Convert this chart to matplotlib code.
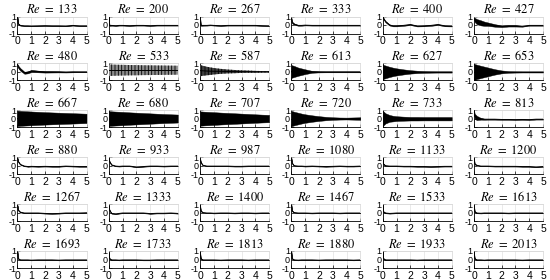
import matplotlib
matplotlib.use("Agg")
import matplotlib.pyplot as plt

plt.rcParams["mathtext.fontset"] = "stix"
plt.rcParams["font.family"] = ["Liberation Sans", "DejaVu Sans"]
plt.rcParams["hatch.linewidth"] = 0.6

# Reynolds number of each panel, row by row
re_numbers = [133, 200, 267, 333, 400, 427,
              480, 533, 587, 613, 627, 653,
              667, 680, 707, 720, 733, 813,
              880, 933, 987, 1080, 1133, 1200,
              1267, 1333, 1400, 1467, 1533, 1613,
              1693, 1733, 1813, 1880, 1933, 2013]

# time knots the traces were read at
t_knots = [0, 0.05, 0.2, 0.5, 0.75, 1, 1.5, 2, 2.5, 3, 3.5, 4, 4.5, 5]

# mean level of each trace
centre = [
    [0.9, 0.15, -0.05, -0.1, -0.1, -0.12, -0.1, -0.08, -0.1, -0.1, -0.12, -0.05, -0.1, -0.1],
    [1.0, -0.05, -0.05, -0.08, -0.05, -0.05, -0.08, -0.05, -0.05, -0.08, -0.05, -0.05, -0.05, -0.05],
    [1.0, -0.05, -0.05, -0.05, -0.02, -0.05, -0.08, -0.05, -0.05, -0.05, -0.05, -0.05, -0.08, -0.1],
    [0.8, 0.3, 0.1, -0.05, -0.05, -0.02, -0.05, -0.05, -0.05, -0.05, -0.05, -0.05, -0.05, -0.05],
    [1.0, 0.8, 0.4, 0.0, -0.1, -0.1, -0.05, 0.05, -0.12, -0.1, -0.05, 0.05, -0.1, -0.12],
    [0.8, 0.6, 0.4, 0.25, 0.15, 0.1, -0.05, -0.15, -0.1, -0.1, -0.15, -0.05, -0.05, -0.05],
    [0.85, 0.6, 0.3, -0.1, -0.05, 0.1, 0.05, 0.0, 0.0, 0.0, -0.02, 0.0, 0.0, 0.0],
    [0.2, 0.2, 0.2, 0.2, 0.2, 0.2, 0.2, 0.2, 0.2, 0.2, 0.2, 0.2, 0.2, 0.2],
    [0.15, 0.14, 0.13, 0.1, 0.085, 0.075, 0.065, 0.05, 0.035, 0.03, 0.025, 0.01, 0.01, 0.01],
    [0.05, 0.05, 0.05, 0.025, 0.025, 0.025, 0.01, 0, 0, 0, 0, 0, 0, 0],
    [0, 0, 0, 0, 0, 0, 0, 0, 0, 0, 0, 0, 0, 0],
    [0, 0, 0, 0, 0, 0, 0, 0, 0, 0, 0, 0, 0, 0],
    [0.05, 0.05, 0.05, 0.05, 0.05, 0.05, 0.05, 0.05, 0.05, 0.05, 0.05, 0.05, 0.05, 0.05],
    [0.03, 0.03, 0.03, 0.03, 0.03, 0.03, 0.03, 0.03, 0.03, 0.03, 0.03, 0.03, 0.03, 0.03],
    [0.03, 0.03, 0.03, 0.03, 0.03, 0.03, 0.03, 0.03, 0.03, 0.03, 0.03, 0.03, 0.03, 0.03],
    [0.03, 0.03, 0.03, 0.03, 0.03, 0.03, 0.03, 0.03, 0.03, 0.03, 0.03, 0.03, 0.03, 0.03],
    [0.05, 0.05, 0.05, 0.05, 0.025, 0.025, 0.015, 0.01, 0.01, 0.01, 0.01, 0.01, 0.01, 0.01],
    [1.0, 0.3, 0.1, 0.0, -0.05, -0.05, -0.05, -0.08, -0.08, -0.1, -0.08, -0.1, -0.05, -0.05],
    [0.9, 0.5, 0.15, -0.05, -0.1, -0.08, -0.1, -0.08, -0.1, -0.1, -0.05, -0.08, -0.1, -0.1],
    [0.9, 0.5, 0.1, -0.05, -0.08, -0.05, -0.05, -0.15, -0.1, -0.05, -0.05, -0.08, -0.05, -0.05],
    [0.9, 0.4, 0.05, -0.05, -0.05, -0.05, -0.05, -0.05, -0.08, -0.08, -0.05, -0.05, -0.05, -0.05],
    [0.9, 0.3, 0.0, -0.05, -0.05, -0.08, -0.05, -0.08, -0.1, -0.08, -0.05, -0.08, -0.08, -0.05],
    [0.9, 0.2, 0.0, -0.05, -0.05, -0.05, -0.08, -0.08, -0.1, -0.1, -0.12, -0.1, -0.08, -0.08],
    [0.9, 0.2, 0.05, -0.05, -0.05, -0.05, -0.08, -0.08, -0.08, -0.08, -0.1, -0.1, -0.15, -0.1],
    [0.85, 0.3, 0.05, -0.05, -0.05, -0.05, -0.05, -0.1, -0.12, -0.1, -0.05, -0.05, -0.05, -0.02],
    [0.8, 0.3, -0.1, -0.15, -0.1, -0.05, -0.05, -0.05, -0.05, -0.12, -0.08, -0.08, -0.05, -0.1],
    [0.9, 0.2, 0.0, -0.05, -0.05, -0.08, -0.05, -0.05, -0.08, -0.05, -0.05, -0.08, -0.05, -0.05],
    [0.9, 0.2, 0.0, -0.05, -0.05, -0.05, -0.08, -0.05, -0.05, -0.05, -0.08, -0.05, -0.05, -0.05],
    [0.9, 0.1, -0.05, -0.1, -0.08, -0.05, -0.05, -0.05, -0.05, -0.05, -0.05, -0.05, -0.05, -0.05],
    [0.9, 0.1, -0.05, -0.08, -0.05, -0.05, -0.05, -0.05, -0.08, -0.05, -0.05, -0.05, -0.05, -0.05],
    [0.9, 0.1, -0.05, -0.05, -0.05, -0.08, -0.05, -0.05, -0.05, -0.08, -0.05, -0.05, -0.05, -0.05],
    [0.8, 0.1, -0.05, -0.05, -0.08, -0.05, -0.05, -0.05, -0.08, -0.08, -0.05, -0.05, -0.05, -0.05],
    [0.9, 0.1, -0.05, -0.05, -0.05, -0.05, -0.08, -0.05, -0.05, -0.05, -0.08, -0.05, -0.05, -0.05],
    [0.9, 0.1, -0.05, -0.08, -0.05, -0.05, -0.05, -0.08, -0.05, -0.05, -0.05, -0.05, -0.08, -0.05],
    [0.9, 0.1, -0.05, -0.05, -0.05, -0.05, -0.05, -0.05, -0.08, -0.05, -0.05, -0.05, -0.05, -0.05],
    [0.9, 0.1, -0.05, -0.05, -0.08, -0.05, -0.05, -0.05, -0.05, -0.05, -0.08, -0.05, -0.05, -0.05],
]

# half width of the oscillation around the mean
quiet = [0.02, 0.05, 0.03, 0.02, 0.02, 0.02, 0.02, 0.02, 0.02, 0.02, 0.02, 0.02, 0.02, 0.02]
half_width = [
    quiet, quiet, quiet,
    [0.05, 0.1, 0.08, 0.04, 0.03, 0.03, 0.02, 0.02, 0.02, 0.02, 0.02, 0.02, 0.02, 0.02],
    [0.02, 0.05, 0.08, 0.06, 0.06, 0.06, 0.05, 0.05, 0.05, 0.05, 0.05, 0.05, 0.05, 0.05],
    [0.1, 0.25, 0.3, 0.3, 0.25, 0.2, 0.15, 0.1, 0.08, 0.08, 0.05, 0.03, 0.03, 0.03],
    [0.05, 0.15, 0.15, 0.12, 0.12, 0.12, 0.1, 0.08, 0.07, 0.06, 0.05, 0.05, 0.04, 0.04],
    [0.68, 0.68, 0.67, 0.65, 0.64, 0.63, 0.61, 0.6, 0.58, 0.57, 0.56, 0.55, 0.54, 0.53],
    [0.65, 0.64, 0.59, 0.5, 0.44, 0.38, 0.29, 0.23, 0.19, 0.15, 0.13, 0.11, 0.09, 0.09],
    [0.75, 0.73, 0.65, 0.48, 0.38, 0.28, 0.11, 0.06, 0.05, 0.05, 0.05, 0.05, 0.05, 0.05],
    [0.85, 0.83, 0.75, 0.6, 0.5, 0.42, 0.3, 0.2, 0.14, 0.11, 0.09, 0.08, 0.08, 0.08],
    [0.95, 0.93, 0.85, 0.72, 0.62, 0.52, 0.32, 0.17, 0.1, 0.08, 0.07, 0.07, 0.07, 0.07],
    [0.9, 0.9, 0.88, 0.85, 0.83, 0.81, 0.77, 0.73, 0.7, 0.67, 0.64, 0.61, 0.58, 0.55],
    [0.88, 0.87, 0.85, 0.82, 0.8, 0.78, 0.73, 0.69, 0.65, 0.61, 0.57, 0.53, 0.5, 0.47],
    [0.85, 0.84, 0.82, 0.79, 0.77, 0.75, 0.7, 0.66, 0.62, 0.58, 0.54, 0.5, 0.46, 0.43],
    [0.9, 0.88, 0.8, 0.68, 0.58, 0.5, 0.38, 0.28, 0.2, 0.15, 0.12, 0.11, 0.13, 0.15],
    [0.88, 0.83, 0.6, 0.4, 0.33, 0.28, 0.24, 0.21, 0.21, 0.2, 0.2, 0.2, 0.2, 0.2],
    [0.05, 0.3, 0.25, 0.1, 0.06, 0.05, 0.05, 0.04, 0.04, 0.04, 0.04, 0.04, 0.04, 0.04],
    quiet, quiet, quiet, quiet, quiet, quiet,
    quiet, quiet, quiet, quiet, quiet, quiet,
    quiet, quiet, quiet, quiet, quiet, quiet,
]

# panels whose dense oscillation shows up as a striped grey band
striped = {533: "0.55", 587: "0.25"}

W, H = 550, 280
fig = plt.figure(figsize=(W / 100, H / 100), dpi=100)

left0, col_step, ax_w = 17.5, 91.3, 69
top0, row_step, ax_h = 16.5, 46.9, 17

for i, re in enumerate(re_numbers):
    r, c = divmod(i, 6)
    x0 = left0 + c * col_step
    y0 = top0 + r * row_step
    ax = fig.add_axes([x0 / W, 1 - (y0 + ax_h) / H, ax_w / W, ax_h / H])

    mid = centre[i]
    hw = half_width[i]
    lo = [m - h for m, h in zip(mid, hw)]
    hi = [m + h for m, h in zip(mid, hw)]
    if re in striped:
        ax.fill_between(t_knots, lo, hi, facecolor=striped[re], edgecolor="black",
                        hatch="|||||", lw=0, zorder=3)
    else:
        ax.fill_between(t_knots, lo, hi, color="black", lw=0.3, zorder=3)
    ax.plot(t_knots, mid, color="black", lw=0.7, zorder=4)

    ax.set_xlim(0, 5)
    ax.set_ylim(-1, 1)
    ax.set_xticks([0, 1, 2, 3, 4, 5])
    ax.set_yticks([-1, 0, 1])
    ax.set_yticklabels(["-1", "0", "1"])
    ax.grid(True, color="#e2e2e2", lw=0.5, zorder=0)
    ax.tick_params(axis="x", direction="in", length=2, width=0.5,
                   labelsize=7.5, pad=2)
    ax.tick_params(axis="y", direction="in", length=2, width=0.5,
                   labelsize=6.5, pad=1)
    for side in ("left", "bottom"):
        ax.spines[side].set_linewidth(0.6)
        ax.spines[side].set_color("black")
    for side in ("top", "right"):
        ax.spines[side].set_linewidth(0.5)
        ax.spines[side].set_color("#d5d5d5")
    ax.set_title(rf"$Re\ =\ {re}$", fontsize=9, pad=2.5)

fig.savefig("out.png", dpi=100)
